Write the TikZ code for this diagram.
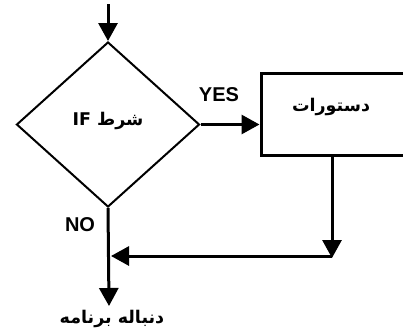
\documentclass[tikz,border=0pt]{standalone}
\usepackage{fontspec}
\setmainfont{Liberation Sans}
\newfontfamily\arabicfont[Script=Arabic]{DejaVu Sans}
\TeXXeTstate=1
\usetikzlibrary{shapes.geometric,arrows.meta}
\begin{document}
\begin{tikzpicture}[x=1pt,y=-1pt,
  conn/.style={line width=3pt,-{Triangle[length=18pt,width=19pt]}},
  lbl/.style={font=\fontsize{20}{20}\selectfont\bfseries,inner sep=0pt},
  arlbl/.style={font=\fontsize{17.5}{18}\selectfont\arabicfont\bfseries,inner sep=0pt}]
\useasboundingbox (0,0) rectangle (403,332);
\clip (0,0) rectangle (403,332);
\node[diamond,draw,line width=2pt,minimum width=183pt,minimum height=165pt,inner sep=0pt] (dia) at (108,124.5) {};
\node[arlbl] (cond) at (108,121) {\beginR شرط \beginL IF\endL\endR};
\node[draw,line width=3pt,minimum width=189pt,minimum height=82pt,inner sep=0pt] (rect) at (355.5,114) {};
\node[arlbl] (stmts) at (331,107) {\beginR دستورات\endR};
\coordinate (start) at (108,4);
\coordinate (down) at (332,258);
\coordinate (join) at (332,256);
\coordinate (merge) at (111,256);
\coordinate (end) at (109,306);
\coordinate (rs) at (332,155);
\draw[conn] (start) -- (dia.north);
\draw[conn] (dia.east) -- (dia.east -| rect.west);
\draw[conn] (rs) -- (down);
\draw[conn] (join) -- (merge);
\draw[conn] (dia.south) -- (end);
\node[lbl] (yes) at (219,95) {YES};
\node[lbl] (no) at (80,225) {NO};
\node[arlbl] (cont) at (112,319) {\beginR دنباله برنامه\endR};
\end{tikzpicture}
\end{document}
